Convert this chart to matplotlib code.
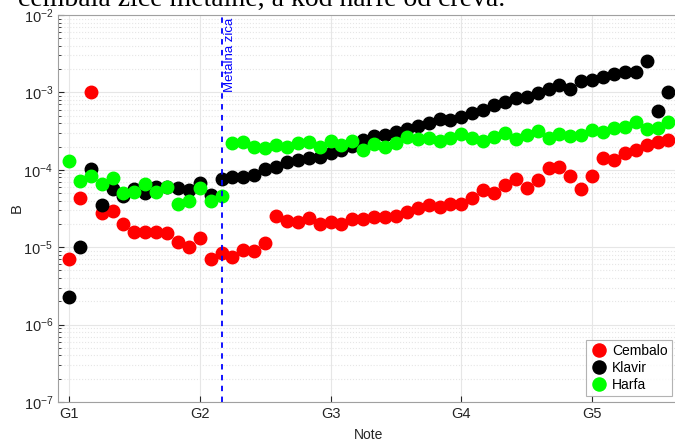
import numpy as np
import matplotlib
matplotlib.use("Agg")
import matplotlib.pyplot as plt

plt.rcParams['font.family'] = ['Liberation Sans', 'DejaVu Sans']
plt.rcParams['mathtext.fontset'] = 'custom'
plt.rcParams['mathtext.rm'] = 'Liberation Sans'

# koeficijent nehomogenosti B po notama (G1 .. D6, polustepeni)
cembalo = [7.05e-6, 4.32e-5, 1.02e-3, 2.74e-5, 2.96e-5, 2.0e-5, 1.58e-5, 1.58e-5,
           1.58e-5, 1.54e-5, 1.18e-5, 9.97e-6, 1.33e-5, 6.98e-6, 8.49e-6, 7.54e-6,
           9.2e-6, 9.0e-6, 1.14e-5, 2.55e-5, 2.2e-5, 2.1e-5, 2.36e-5, 2.0e-5,
           2.13e-5, 2.0e-5, 2.31e-5, 2.31e-5, 2.43e-5, 2.43e-5, 2.55e-5, 2.87e-5,
           3.18e-5, 3.51e-5, 3.34e-5, 3.62e-5, 3.62e-5, 4.28e-5, 5.48e-5, 5.06e-5,
           6.37e-5, 7.54e-5, 5.77e-5, 7.38e-5, 1.04e-4, 1.10e-4, 8.32e-5, 5.6e-5,
           8.32e-5, 1.41e-4, 1.34e-4, 1.63e-4, 1.80e-4, 2.09e-4, 2.31e-4, 2.43e-4]
klavir = [2.29e-6, 1.01e-5, 1.02e-4, 3.51e-5, 5.7e-5, 4.59e-5, 5.65e-5, 5.06e-5,
          5.94e-5, 5.94e-5, 5.75e-5, 5.48e-5, 6.69e-5, 4.72e-5, 7.54e-5, 8.0e-5,
          8.0e-5, 8.57e-5, 1.01e-4, 1.08e-4, 1.27e-4, 1.34e-4, 1.41e-4, 1.45e-4,
          1.66e-4, 1.80e-4, 2.03e-4, 2.43e-4, 2.73e-4, 2.82e-4, 3.11e-4, 3.34e-4,
          3.68e-4, 4.06e-4, 4.49e-4, 4.40e-4, 4.85e-4, 5.47e-4, 5.93e-4, 6.88e-4,
          7.59e-4, 8.39e-4, 8.80e-4, 9.73e-4, 1.10e-3, 1.25e-3, 1.10e-3, 1.42e-3,
          1.45e-3, 1.57e-3, 1.73e-3, 1.85e-3, 1.85e-3, 2.57e-3, 5.8e-4, 1.02e-3]
harfa = [1.30e-4, 7.23e-5, 8.32e-5, 6.5e-5, 7.76e-5, 4.97e-5, 5.21e-5, 6.5e-5,
         5.21e-5, 6.05e-5, 3.62e-5, 3.95e-5, 5.75e-5, 3.99e-5, 4.63e-5, 2.2e-4,
         2.31e-4, 1.95e-4, 1.90e-4, 2.09e-4, 1.99e-4, 2.2e-4, 2.31e-4, 1.99e-4,
         2.36e-4, 2.09e-4, 2.38e-4, 1.80e-4, 2.15e-4, 1.95e-4, 2.24e-4, 2.68e-4,
         2.48e-4, 2.55e-4, 2.38e-4, 2.55e-4, 2.90e-4, 2.55e-4, 2.38e-4, 2.63e-4,
         3.01e-4, 2.48e-4, 2.82e-4, 3.20e-4, 2.55e-4, 2.88e-4, 2.76e-4, 2.82e-4,
         3.27e-4, 3.11e-4, 3.44e-4, 3.60e-4, 4.18e-4, 3.34e-4, 3.44e-4, 4.18e-4]

tick_notes = [0, 12, 24, 36, 48]
tick_labels = ['G1', 'G2', 'G3', 'G4', 'G5']
metal_note = 14   # od ove note zice su metalne

x = np.arange(len(cembalo))

fig = plt.figure(figsize=(6.75, 4.41), dpi=100)
ax_l, ax_r = 58, 680
ax = fig.add_axes([ax_l / 675, 1 - 402 / 441, (ax_r - ax_l) / 675, 387 / 441])

ms = 9
ax.plot(x, cembalo, 'o', color=(1, 0, 0), ms=ms, label='Cembalo')
ax.plot(x, klavir, 'o', color='k', ms=ms, label='Klavir')
ax.plot(x, harfa, 'o', color=(0, 1, 0), ms=ms, label='Harfa')

ax.axvline(metal_note, color=(0, 0, 1), ls=(0, (3, 3)), lw=1.3)
ax.text(metal_note + 0.25, 9.2e-3, 'Metalna zica', rotation=90, color=(0, 0, 1),
        fontsize=9.5, ha='left', va='top')

ax.set_yscale('log')
ax.set_ylim(1e-7, 1e-2)
ax.set_xlim(-1, 56.06)
ax.set_xticks(tick_notes)
ax.set_xticklabels(tick_labels)
ax.grid(True, which='major', color='#e6e6e6', lw=0.8)
ax.grid(True, which='minor', axis='y', color='#e6e6e6', ls=':', lw=0.8)
ax.set_axisbelow(True)
ax.tick_params(which='both', direction='in', colors='#262626', labelsize=10.5)
ax.tick_params(which='major', length=4)
ax.tick_params(which='minor', length=2)
for s in ax.spines.values():
    s.set_color('#a0a0a0')

ax.set_xlabel('Note', fontsize=10, color='#262626', labelpad=5)
ax.set_ylabel('B', fontsize=10.5, color='#262626', labelpad=0)

leg = ax.legend(loc='lower right',
                bbox_to_anchor=((672 - ax_l) / (ax_r - ax_l), 6 / 387),
                borderaxespad=0, fontsize=10, frameon=True, fancybox=False,
                handletextpad=0.3, borderpad=0.3, labelspacing=0.22,
                handlelength=1.3, markerscale=1.05)
leg.get_frame().set_edgecolor('#a0a0a0')
leg.get_frame().set_linewidth(0.8)

fig.text(18 / 675, 1 - 6 / 441, 'čembala žice metalne, a kod harfe od creva.',
         family='Liberation Serif', fontsize=20, va='baseline', ha='left')

fig.savefig('out.png', dpi=100)
